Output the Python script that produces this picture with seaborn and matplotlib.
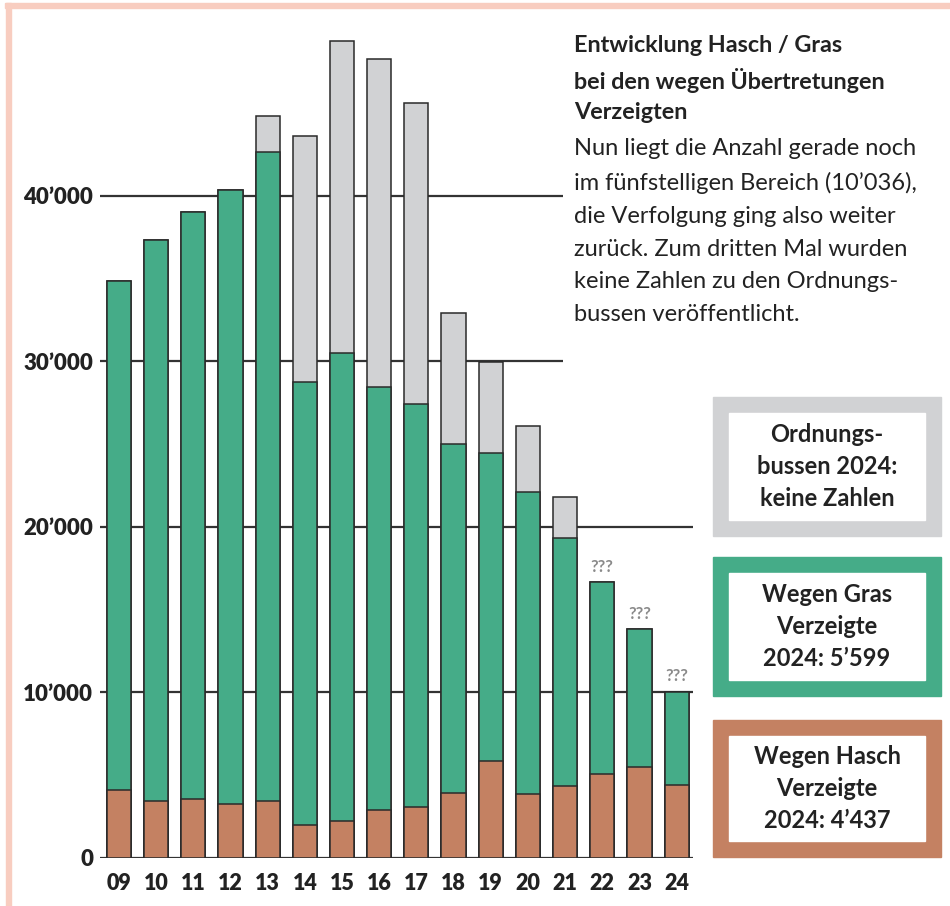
import numpy as np
import pandas as pd
from matplotlib import pyplot as plt
from matplotlib.patches import Rectangle
import seaborn as sns

# values (Verzeigte per year)
years = ["09", "10", "11", "12", "13", "14", "15", "16",
         "17", "18", "19", "20", "21", "22", "23", "24"]
hasch = [4100, 3440, 3540, 3260, 3440, 1980, 2250, 2900,
         3060, 3940, 5880, 3850, 4330, 5070, 5500, 4437]
gras = [30760, 33900, 35460, 37070, 39180, 26750, 28230, 25560,
        24380, 21040, 18600, 18250, 14980, 11580, 8330, 5599]
# Ordnungsbussen: none before 2013, no numbers published from 2022 on
bussen = [0, 0, 0, 0, 2210, 14860, 18850, 19780,
          18140, 7950, 5490, 4010, 2510, np.nan, np.nan, np.nan]

yticks = [0, 10000, 20000, 30000, 40000]

df = pd.DataFrame({"year": years, "hasch": hasch, "gras": gras, "bussen": bussen})
df["hasch_gras"] = df["hasch"] + df["gras"]
df["total"] = df["hasch_gras"] + df["bussen"].fillna(0)

GREY = "#d1d2d4"
GREEN = "#45ac88"
BROWN = "#c48162"
EDGE = "#2a2a2a"
PINK = "#f8cdc0"

sns.set_style("white")
plt.rcParams["font.family"] = ["Lato", "DejaVu Sans"]

fig = plt.figure(figsize=(9.5, 9.06), dpi=100)
ax = fig.add_axes([100 / 950, 48 / 906, 593 / 950, 828 / 906])

# stacked bars by overlaying cumulative totals
for col, color in [("total", GREY), ("hasch_gras", GREEN), ("hasch", BROWN)]:
    sns.barplot(data=df, x="year", y=col, order=years, color=color,
                width=0.65, edgecolor=EDGE, linewidth=1.1, saturation=1,
                ax=ax, zorder=3)

ax.set_xlim(-0.51, 15.44)
ax.set_ylim(0, 50000)

# horizontal lines; the upper ones stop where the text starts
ax.hlines([0, 10000, 20000], -0.51, 15.44, color="#333333", lw=1.6, zorder=1)
ax.hlines([30000, 40000], -0.51, 11.95, color="#333333", lw=1.6, zorder=1)

for i, row in df.iterrows():
    if np.isnan(row["bussen"]):
        ax.text(i, row["total"] + 450, "???", ha="center", va="bottom",
                fontsize=12, color="#8a8a8a", fontweight="bold", zorder=4)

ax.set_yticks(yticks)
ax.set_yticklabels([f"{v:,}".replace(",", "\u2019") for v in yticks],
                   fontsize=16, fontweight="heavy", color="#222222")
ax.set_xticks(range(len(years)))
ax.set_xticklabels(years, fontsize=15.5, fontweight="heavy", color="#222222")
ax.tick_params(axis="both", length=0)
ax.tick_params(axis="y", pad=5)
ax.tick_params(axis="x", pad=11)
ax.set_xlabel("")
ax.set_ylabel("")
sns.despine(ax=ax, left=True, bottom=True)
ax.set_facecolor("none")

# pink frame on top and left
fig.patches.append(Rectangle((5 / 950, 1 - 8 / 906), 945 / 950, 5 / 906,
                             transform=fig.transFigure, color=PINK, zorder=0))
fig.patches.append(Rectangle((6 / 950, 0), 5 / 950, 1 - 3 / 906,
                             transform=fig.transFigure, color=PINK, zorder=0))

# text block
fig.text(574 / 950, 1 - 35 / 906,
         "Entwicklung Hasch / Gras\nbei den wegen Übertretungen\nVerzeigten",
         ha="left", va="top", fontsize=16.8, fontweight="bold", color="#222222",
         linespacing=1.55)
fig.text(574 / 950, 1 - 138 / 906,
         "Nun liegt die Anzahl gerade noch\nim fünfstelligen Bereich (10\u2019036),\n"
         "die Verfolgung ging also weiter\nzurück. Zum dritten Mal wurden\n"
         "keine Zahlen zu den Ordnungs-\nbussen veröffentlicht.",
         ha="left", va="top", fontsize=17, color="#222222", linespacing=1.7)

# legend boxes
boxes = [
    (397, 536, GREY, "Ordnungs-\nbussen 2024:\nkeine Zahlen"),
    (557, 696, GREEN, "Wegen Gras\nVerzeigte\n2024: 5\u2019599"),
    (720, 857, BROWN, "Wegen Hasch\nVerzeigte\n2024: 4\u2019437"),
]
x0, x1, b = 713, 941, 16
for top, bot, color, label in boxes:
    fig.patches.append(Rectangle((x0 / 950, 1 - bot / 906), (x1 - x0) / 950,
                                 (bot - top) / 906, transform=fig.transFigure,
                                 color=color, zorder=0))
    fig.patches.append(Rectangle(((x0 + b) / 950, 1 - (bot - b) / 906),
                                 (x1 - x0 - 2 * b) / 950, (bot - top - 2 * b) / 906,
                                 transform=fig.transFigure, color="white", zorder=0))
    fig.text((x0 + x1) / 2 / 950, 1 - (top + bot) / 2 / 906, label,
             ha="center", va="center", fontsize=17, fontweight="bold",
             color="#222222", linespacing=1.5)

fig.savefig("out.png", dpi=100)
